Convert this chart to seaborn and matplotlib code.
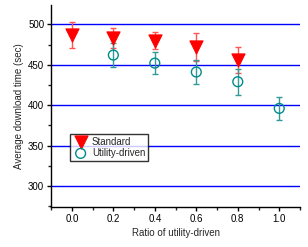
import pandas as pd
import seaborn as sns
import matplotlib
matplotlib.use('Agg')
import matplotlib.pyplot as plt
from matplotlib.ticker import MultipleLocator

# values
std_ratio = [0.0, 0.2, 0.4, 0.6, 0.8]
std_time = [487, 483, 480, 472, 456]
std_err = [16, 12, 10, 17, 16]

util_ratio = [0.2, 0.4, 0.6, 0.8, 1.0]
util_time = [462, 452, 441, 429, 396]
util_err = [15, 14, 15, 16, 14]

sns.set_style('ticks')
plt.rcParams['font.family'] = ['Liberation Sans', 'DejaVu Sans']

fig = plt.figure(figsize=(3.08, 2.47), dpi=100)
ax = fig.add_axes([0.166, 0.162, 0.808, 0.818])

ax.yaxis.grid(True, color='blue', linewidth=1)
ax.set_axisbelow(True)

std = pd.DataFrame({'ratio': std_ratio, 'time': std_time})
util = pd.DataFrame({'ratio': util_ratio, 'time': util_time})

ax.errorbar(std_ratio, std_time, yerr=std_err, fmt='none', ecolor='#ff5555',
            elinewidth=1, capsize=2.5, capthick=1, zorder=2)
ax.errorbar(util_ratio, util_time, yerr=util_err, fmt='none', ecolor='#339999',
            elinewidth=1, capsize=2.5, capthick=1, zorder=2)

sns.scatterplot(data=std, x='ratio', y='time', marker='v', s=90, color='red',
                edgecolor='red', label='Standard', ax=ax, zorder=3)
sns.scatterplot(data=util, x='ratio', y='time', marker='o', s=50,
                facecolor='none', edgecolor='#008b8b', linewidth=1,
                label='Utility-driven', ax=ax, zorder=3)

ax.set_xlim(-0.1, 1.1)
ax.set_ylim(274, 524)
ax.xaxis.set_minor_locator(MultipleLocator(0.1))
ax.yaxis.set_minor_locator(MultipleLocator(25))
ax.set_yticks([300, 350, 400, 450, 500])
ax.set_xticks([0.0, 0.2, 0.4, 0.6, 0.8, 1.0])
ax.set_xticklabels(['0.0', '0.2', '0.4', '0.6', '0.8', '1.0'])

ax.tick_params(which='major', length=3, width=1, labelsize=7, colors='black', pad=2)
ax.tick_params(which='minor', length=2, width=1)
for s in ['top', 'right']:
    ax.spines[s].set_visible(False)
for s in ['left', 'bottom']:
    ax.spines[s].set_linewidth(1)
    ax.spines[s].set_color('black')

ax.set_xlabel('Ratio of utility-driven', fontsize=7, labelpad=3)
ax.set_ylabel('Average download time (sec)', fontsize=7, labelpad=3)

leg = ax.legend(loc='upper left', bbox_to_anchor=(0.058, 0.385), fontsize=7,
                frameon=True, fancybox=False, edgecolor='black',
                borderpad=0.3, handletextpad=0.4, labelspacing=0.1,
                handlelength=1.5)
leg.get_frame().set_linewidth(1)

fig.savefig('out.png', dpi=100)
